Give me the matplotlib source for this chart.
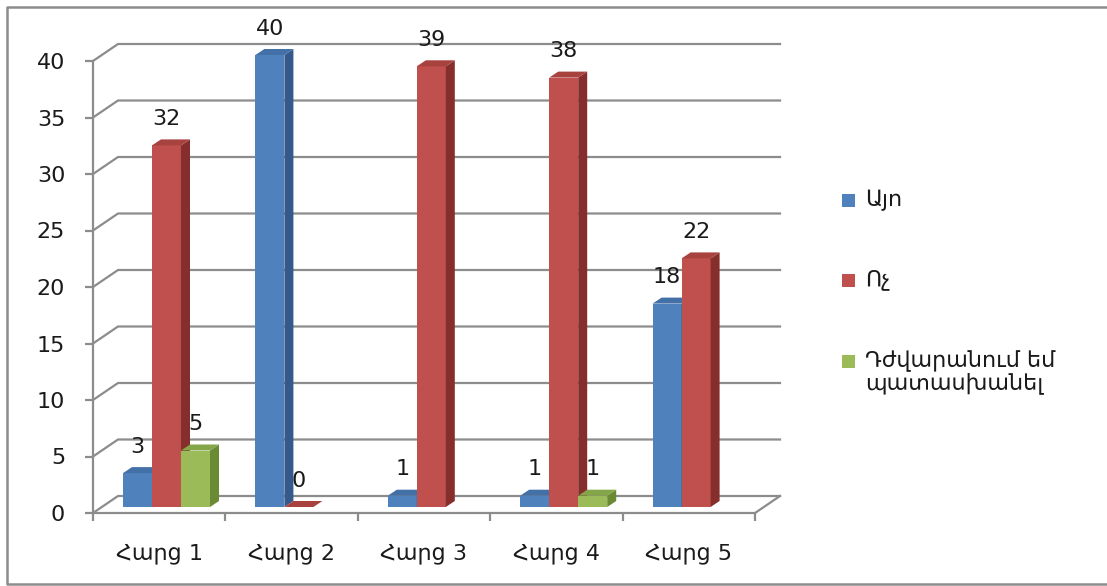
import matplotlib.pyplot as plt
from matplotlib.lines import Line2D
from matplotlib.patches import Polygon, Rectangle

categories = ['Հարց 1', 'Հարց 2', 'Հարց 3', 'Հարց 4', 'Հարց 5']
series_names = ['Այո', 'Ոչ', 'Դժվարանում եմ\nպատասխանել']
yes_vals = [3, 40, 1, 1, 18]
no_vals = [32, 0, 39, 38, 22]
hard_vals = [5, None, None, 1, None]
y_ticks = [0, 5, 10, 15, 20, 25, 30, 35, 40]

# front, side, top colours for each series
colors = [
    ('#4F81BD', '#34598A', '#4470A8'),
    ('#C0504D', '#852E2C', '#A8423F'),
    ('#9BBB59', '#6A8A33', '#84A648'),
]
grid_c = '#8C8C8C'

W, H = 1107, 586
fig = plt.figure(figsize=(W / 100, H / 100), dpi=100)
fig.patch.set_facecolor('white')

# front plane of the plot area in pixels
left_px, right_px, zero_px, top_px = 93, 755, 513, 61
ax = fig.add_axes([left_px / W, 1 - zero_px / H,
                   (right_px - left_px) / W, (zero_px - top_px) / H])
ax.set_xlim(-0.5, 4.5)
ax.set_ylim(0, 40)
ax.patch.set_alpha(0)

sx = (right_px - left_px) / 5.0   # px per category
sy = (zero_px - top_px) / 40.0    # px per unit


def px(dx, dy):
    return dx / sx, dy / sy


back_dx, back_dy = px(25, 17)
shift_dx, shift_dy = px(7.3, 6)
depth_dx, depth_dy = px(9, 6)
bar_w = 29 / sx

# side wall + back wall gridlines
for v in y_ticks:
    ax.plot([-0.5, -0.5 + back_dx, 4.5 + back_dx], [v, v + back_dy, v + back_dy],
            color=grid_c, lw=1.6, clip_on=False, zorder=1)
# right edge of the floor
ax.plot([4.5, 4.5 + back_dx], [0, back_dy], color=grid_c, lw=1.6, clip_on=False, zorder=1)

for spine in ['top', 'right']:
    ax.spines[spine].set_visible(False)
for spine in ['left', 'bottom']:
    ax.spines[spine].set_color(grid_c)
    ax.spines[spine].set_linewidth(1.6)

ax.set_yticks(y_ticks)
ax.tick_params(axis='y', length=6, width=1.6, color=grid_c, pad=14,
               labelsize=16, labelcolor='#1a1a1a')
ax.set_xticks(range(len(categories)))
ax.set_xticklabels(categories)
ax.set_xticks([i - 0.5 for i in range(len(categories) + 1)], minor=True)
ax.tick_params(axis='x', which='major', length=0, pad=22, labelsize=16, labelcolor='#1a1a1a')
ax.tick_params(axis='x', which='minor', length=6, width=1.6, color=grid_c)

series = [yes_vals, no_vals, hard_vals]
for i in range(len(categories)):
    for k, vals in enumerate(series):
        v = vals[i]
        if v is None:
            continue
        front, side, top = colors[k]
        x0 = i - 1.5 * bar_w + k * bar_w + shift_dx
        y0 = shift_dy
        y1 = v + shift_dy
        z = 3 + i * 3 + k
        if v > 0:
            ax.add_patch(Rectangle((x0, y0), bar_w, v, facecolor=front,
                                   edgecolor='none', zorder=z, clip_on=False))
            ax.add_patch(Polygon([(x0 + bar_w, y0), (x0 + bar_w + depth_dx, y0 + depth_dy),
                                  (x0 + bar_w + depth_dx, y1 + depth_dy), (x0 + bar_w, y1)],
                                 closed=True, facecolor=side, edgecolor='none',
                                 zorder=z, clip_on=False))
        ax.add_patch(Polygon([(x0, y1), (x0 + bar_w, y1),
                              (x0 + bar_w + depth_dx, y1 + depth_dy), (x0 + depth_dx, y1 + depth_dy)],
                             closed=True, facecolor=top, edgecolor='none',
                             zorder=z, clip_on=False))
        ax.annotate(str(v), (x0 + bar_w / 2, y1), xytext=(0, 19),
                    textcoords='offset points', ha='center', va='center',
                    fontsize=16, color='#1a1a1a', annotation_clip=False, zorder=40)

# legend
legend_y = [200, 280, 361]
for k, name in enumerate(series_names):
    fig.add_artist(Rectangle((842 / W, 1 - (legend_y[k] + 6.5) / H), 13 / W, 13 / H,
                             transform=fig.transFigure, facecolor=colors[k][0],
                             edgecolor='none'))
    if '\n' in name:
        fig.text(865 / W, 1 - (legend_y[k] - 11) / H, name, ha='left', va='top',
                 fontsize=16, linespacing=1.0, color='#1a1a1a')
    else:
        fig.text(865 / W, 1 - legend_y[k] / H, name, ha='left', va='center',
                 fontsize=16, color='#1a1a1a')

# chart border: left, top and bottom edges (right edge runs off the canvas)
bx0, by0, by1 = 6.5 / W, 1 - 6.5 / H, 1 - 583.5 / H
fig.add_artist(Line2D([1.0, bx0, bx0, 1.0], [by0, by0, by1, by1],
                      transform=fig.transFigure, color=grid_c, lw=1.8))

fig.savefig('out.png', dpi=100)
